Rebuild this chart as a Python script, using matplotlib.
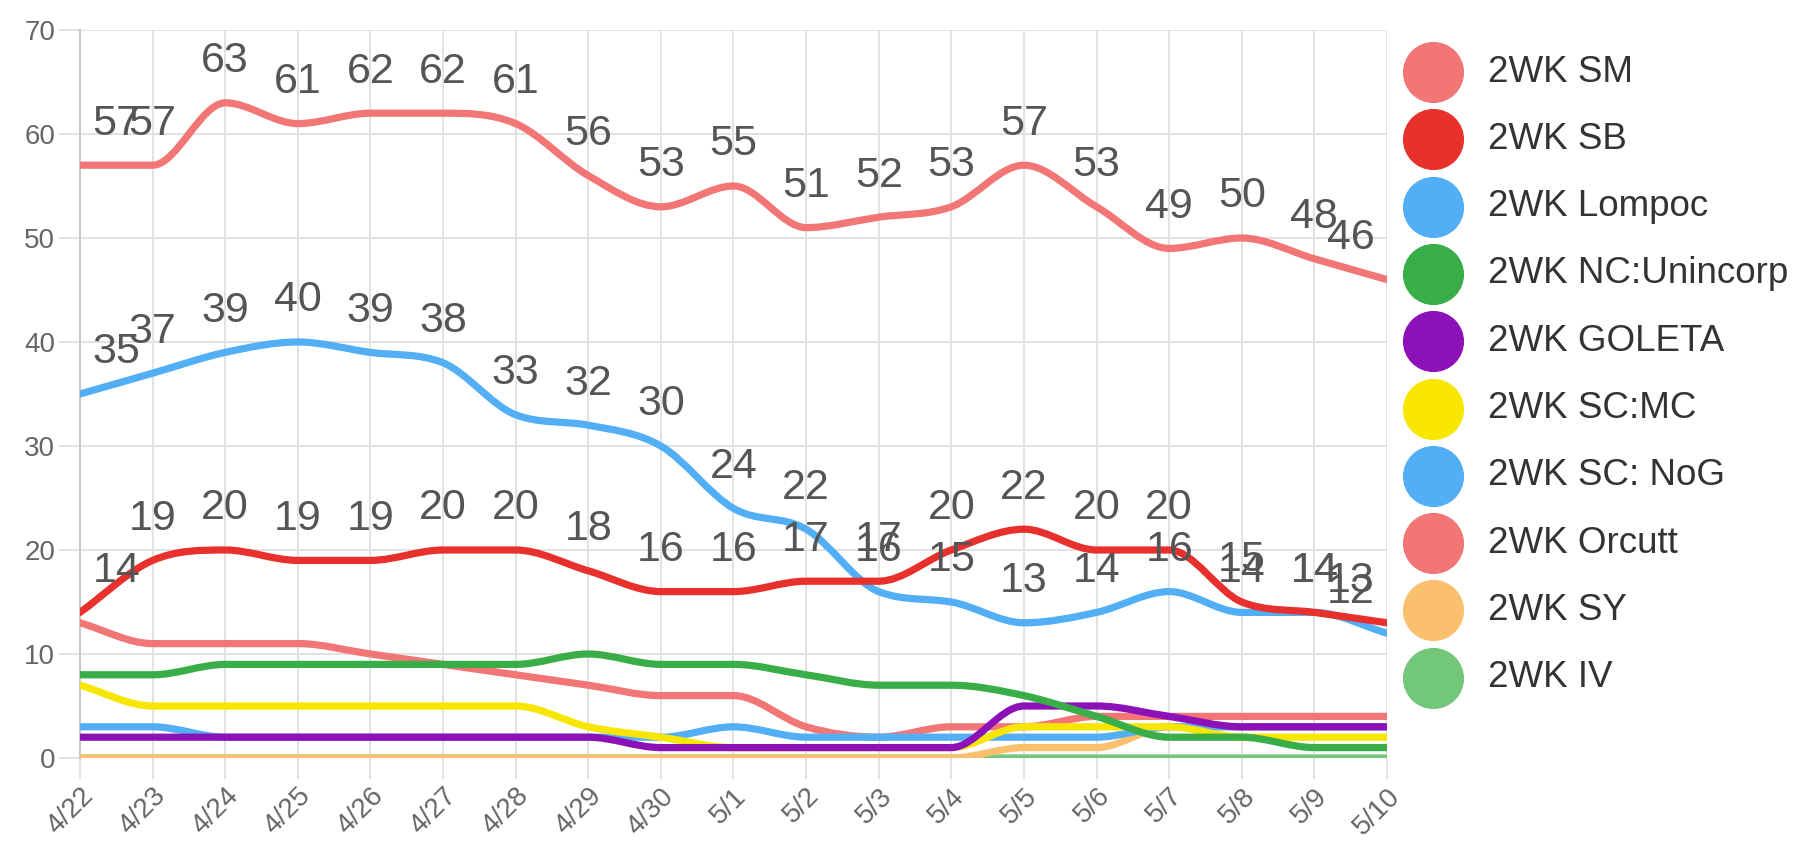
import numpy as np
import matplotlib
matplotlib.use("Agg")
import matplotlib.pyplot as plt
from matplotlib.path import Path
from matplotlib.patches import PathPatch
from matplotlib.lines import Line2D

plt.rcParams['font.family'] = ['Liberation Sans', 'DejaVu Sans']

# ====== data ======
dates = ["4/22", "4/23", "4/24", "4/25", "4/26", "4/27", "4/28", "4/29", "4/30", "5/1",
         "5/2", "5/3", "5/4", "5/5", "5/6", "5/7", "5/8", "5/9", "5/10"]

sm      = [57, 57, 63, 61, 62, 62, 61, 56, 53, 55, 51, 52, 53, 57, 53, 49, 50, 48, 46]
sb      = [14, 19, 20, 19, 19, 20, 20, 18, 16, 16, 17, 17, 20, 22, 20, 20, 15, 14, 13]
lompoc  = [35, 37, 39, 40, 39, 38, 33, 32, 30, 24, 22, 16, 15, 13, 14, 16, 14, 14, 12]
nc      = [8, 8, 9, 9, 9, 9, 9, 10, 9, 9, 8, 7, 7, 6, 4, 2, 2, 1, 1]
goleta  = [2, 2, 2, 2, 2, 2, 2, 2, 1, 1, 1, 1, 1, 5, 5, 4, 3, 3, 3]
sc_mc   = [7, 5, 5, 5, 5, 5, 5, 3, 2, 1, 1, 1, 1, 3, 3, 3, 2, 2, 2]
sc_nog  = [3, 3, 2, 2, 2, 2, 2, 2, 2, 3, 2, 2, 2, 2, 2, 3, 3, 3, 3]
orcutt  = [13, 11, 11, 11, 10, 9, 8, 7, 6, 6, 3, 2, 3, 3, 4, 4, 4, 4, 4]
sy      = [0, 0, 0, 0, 0, 0, 0, 0, 0, 0, 0, 0, 0, 1, 1, 3, 3, 3, 3]
iv      = [0, 0, 0, 0, 0, 0, 0, 0, 0, 0, 0, 0, 0, 0, 0, 0, 0, 0, 0]

names = ["2WK SM", "2WK SB", "2WK Lompoc", "2WK NC:Unincorp", "2WK GOLETA",
         "2WK SC:MC", "2WK SC: NoG", "2WK Orcutt", "2WK SY", "2WK IV"]
series = [sm, sb, lompoc, nc, goleta, sc_mc, sc_nog, orcutt, sy, iv]
colors = ["#f27676", "#e8302c", "#52aef5", "#38ad48", "#8c12b8",
          "#f9e600", "#52aef5", "#f27676", "#fbc06e", "#72c77a"]
labelled = [0, 1, 2]  # datasets with value labels


def monotone_path(ys):
    # monotone cubic (same idea as chart.js cubicInterpolationMode 'monotone')
    ys = np.asarray(ys, dtype=float)
    n = len(ys)
    xs = np.arange(n, dtype=float)
    d = np.diff(ys)
    m = np.zeros(n)
    m[0] = d[0]
    m[-1] = d[-1]
    for i in range(1, n - 1):
        if np.sign(d[i - 1]) != np.sign(d[i]):
            m[i] = 0
        else:
            m[i] = (d[i - 1] + d[i]) / 2
    for i in range(n - 1):
        if d[i] == 0:
            m[i] = m[i + 1] = 0
            continue
        a = m[i] / d[i]
        b = m[i + 1] / d[i]
        s = a * a + b * b
        if s > 9:
            t = 3 / np.sqrt(s)
            m[i] = a * t * d[i]
            m[i + 1] = b * t * d[i]
    verts = [(xs[0], ys[0])]
    codes = [Path.MOVETO]
    for i in range(n - 1):
        dx = 1 / 3
        verts += [(xs[i] + dx, ys[i] + m[i] * dx),
                  (xs[i + 1] - dx, ys[i + 1] - m[i + 1] * dx),
                  (xs[i + 1], ys[i + 1])]
        codes += [Path.CURVE4] * 3
    return Path(verts, codes)


fig = plt.figure(figsize=(18.09, 8.42), dpi=100)
ax = fig.add_axes([80 / 1809, 1 - 758 / 842, 1307 / 1809, 728 / 842])
ax.set_xlim(0, len(dates) - 1)
ax.set_ylim(0, 70)

# chart.js draws the first dataset on top
for k in range(len(series) - 1, -1, -1):
    patch = PathPatch(monotone_path(series[k]), facecolor="none", edgecolor=colors[k],
                      lw=5.2, capstyle="round", joinstyle="round", zorder=3 + (10 - k) * 0.1)
    ax.add_patch(patch)

last = len(dates) - 1
for k in labelled:
    for i, v in enumerate(series[k]):
        if i == 0:
            ha, dx = "left", 9
        elif i == last:
            ha, dx = "right", -9
        else:
            ha, dx = "center", 0
        ax.annotate(str(v), (i, v), xytext=(dx, 30), textcoords="offset points",
                    ha=ha, va="center", fontsize=31, color="#555555", zorder=10,
                    annotation_clip=False)

ax.set_xticks(range(len(dates)))
ax.set_xticklabels(dates, rotation=45, ha="right", rotation_mode="anchor")
ax.set_yticks(range(0, 71, 10))
ax.tick_params(axis="both", colors="#dddddd", labelcolor="#666666", labelsize=20,
               length=15, width=1.2)
ax.tick_params(axis="x", pad=3)
ax.tick_params(axis="y", pad=3)
ax.grid(True, color="#e2e2e2", lw=1.4, zorder=0)
for s in ["top", "right", "bottom"]:
    ax.spines[s].set_visible(False)
ax.spines["left"].set_color("#c8c8c8")
ax.spines["left"].set_linewidth(1.5)
ax.set_axisbelow(True)

# legend drawn by hand: big dots with names
for k, name in enumerate(names):
    yc = 1 - (72 + 67.3 * k) / 842
    fig.add_artist(Line2D([1433 / 1809], [yc], marker="o", ms=43, color=colors[k],
                          mec=colors[k], ls="none", transform=fig.transFigure))
    fig.text(1488 / 1809, yc, name, fontsize=26.5, color="#333333", va="center", ha="left")

plt.savefig("out.png", dpi=100)
